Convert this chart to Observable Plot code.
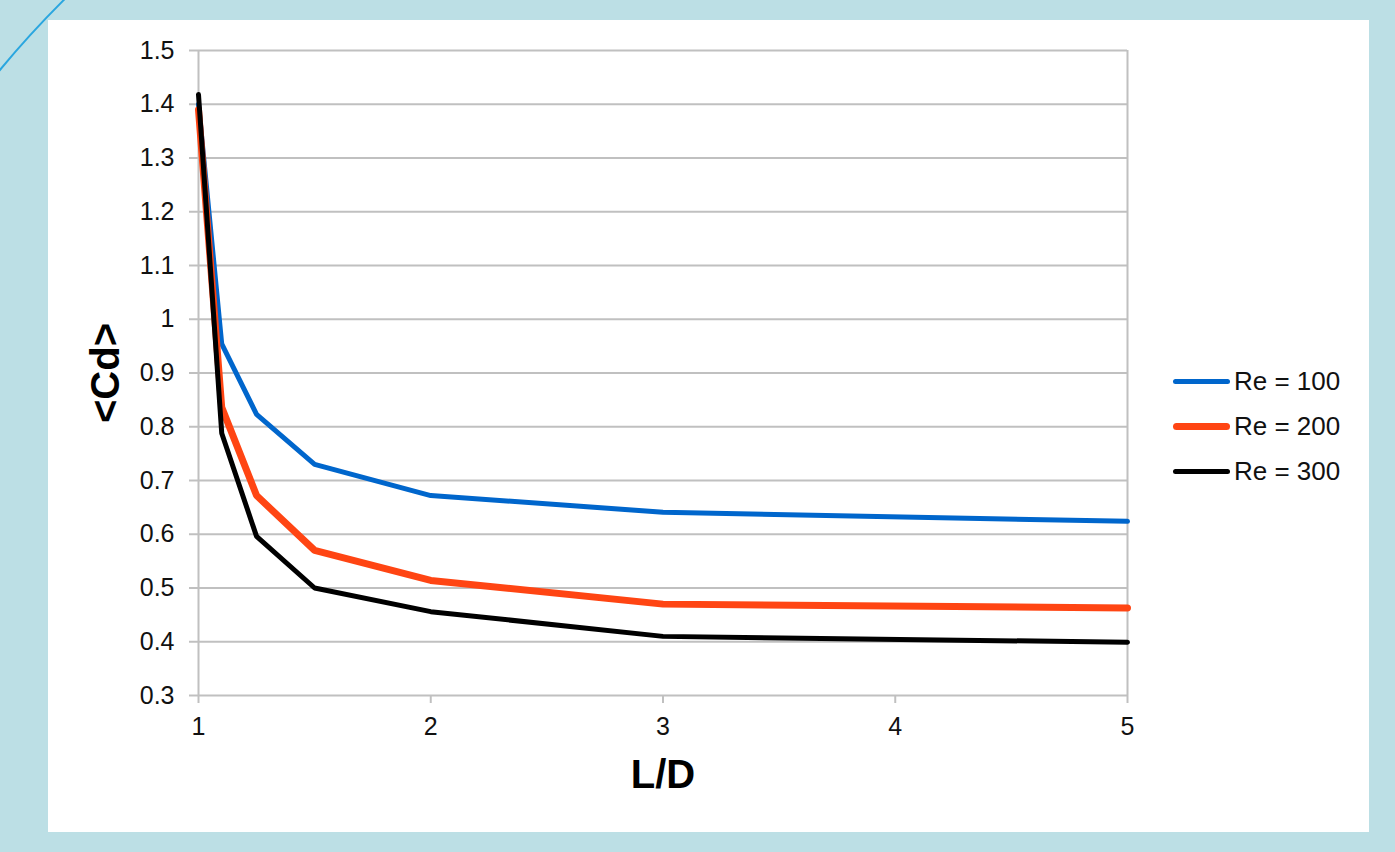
<!DOCTYPE html>
<html>
<head>
<meta charset="utf-8">
<script src="https://cdn.jsdelivr.net/npm/d3@7"></script>
<script src="https://cdn.jsdelivr.net/npm/@observablehq/plot@0.6"></script>
<style>
  html, body { margin: 0; padding: 0; }
  body { width: 1395px; height: 852px; background: #bcdfe5; position: relative; overflow: hidden; font-family: "Liberation Sans", Arial, sans-serif; }
  #arc { position: absolute; left: -234px; top: -297px; width: 2026px; height: 2026px; border: 2px solid #2aa6df; border-radius: 50%; box-sizing: border-box; }
  #panel { position: absolute; left: 48px; top: 20px; width: 1321px; height: 812px; background: #fff; }
  #chart { position: absolute; left: 0; top: 0; }
  #legend { position: absolute; left: 1125px; top: 0; }
  .item { position: absolute; left: 0; height: 30px; display: flex; align-items: center; white-space: nowrap; font-size: 26px; color: #111; }
  .swatch { width: 57px; border-radius: 4px; margin-right: 4px; }
</style>
</head>
<body>
<div id="arc"></div>
<div id="panel">
  <div id="chart"></div>
  <div id="legend"></div>
</div>
<script>
// L/D values (x)
const ld = [1, 1.1, 1.25, 1.5, 2, 3, 5];
// mean drag coefficient <Cd> per Reynolds number
const re100 = [1.40, 0.954, 0.823, 0.730, 0.672, 0.641, 0.624];
const re200 = [1.39, 0.836, 0.672, 0.570, 0.514, 0.470, 0.463];
const re300 = [1.418, 0.788, 0.596, 0.500, 0.456, 0.410, 0.399];
const seriesNames = ["Re = 100", "Re = 200", "Re = 300"];
const seriesColors = ["#0066cc", "#ff4513", "#000000"];
const seriesWidths = [5, 7, 5];
const xTicks = [1, 2, 3, 4, 5];
const yTicks = [0.3, 0.4, 0.5, 0.6, 0.7, 0.8, 0.9, 1.0, 1.1, 1.2, 1.3, 1.4, 1.5];

const seriesValues = [re100, re200, re300];
const rows = seriesNames.map((name, i) => ld.map((x, j) => ({ld: x, cd: seriesValues[i][j], series: name})));

const grid = "#c0c0c0";
const chart = Plot.plot({
  width: 1321,
  height: 812,
  marginLeft: 150,
  marginRight: 242,
  marginTop: 30,
  marginBottom: 137,
  style: {fontFamily: "'Liberation Sans', Arial, sans-serif", fontSize: "25px", color: "#111", background: "transparent", overflow: "visible"},
  x: {type: "linear", domain: [1, 5]},
  y: {type: "linear", domain: [0.3, 1.5]},
  marks: [
    Plot.gridY(yTicks, {stroke: grid, strokeOpacity: 1, strokeWidth: 2}),
    Plot.ruleX([1, 5], {stroke: grid, strokeWidth: 2}),
    Plot.axisY({ticks: yTicks, tickFormat: d => String(+d.toFixed(1)), tickSize: 9, tickPadding: 15, stroke: grid, strokeWidth: 2, fill: "#111", label: null}),
    Plot.axisX({ticks: xTicks, tickFormat: d => String(d), tickSize: 8, tickPadding: 14, stroke: grid, strokeWidth: 2, fill: "#111", label: null}),
    ...rows.map((r, i) => Plot.line(r, {x: "ld", y: "cd", stroke: seriesColors[i], strokeWidth: seriesWidths[i], strokeLinejoin: "miter", strokeLinecap: "round"})),
    Plot.text(["L/D"], {frameAnchor: "bottom", dy: 80, lineAnchor: "middle", fontSize: 40, fontWeight: "bold", fill: "#000"}),
    Plot.text(["<Cd>"], {frameAnchor: "left", dx: -92, rotate: -90, textAnchor: "middle", lineAnchor: "middle", fontSize: 40, fontWeight: "bold", fill: "#000"})
  ]
});
document.getElementById("chart").appendChild(chart);

// legend
const legend = document.getElementById("legend");
const legendTops = [361, 406, 451];
seriesNames.forEach((name, i) => {
  const item = document.createElement("div");
  item.className = "item";
  item.style.top = legendTops[i] - 15 + "px";
  const sw = document.createElement("span");
  sw.className = "swatch";
  sw.style.background = seriesColors[i];
  sw.style.height = seriesWidths[i] + "px";
  const t = document.createElement("span");
  t.textContent = name;
  item.appendChild(sw);
  item.appendChild(t);
  legend.appendChild(item);
});
</script>
</body>
</html>
